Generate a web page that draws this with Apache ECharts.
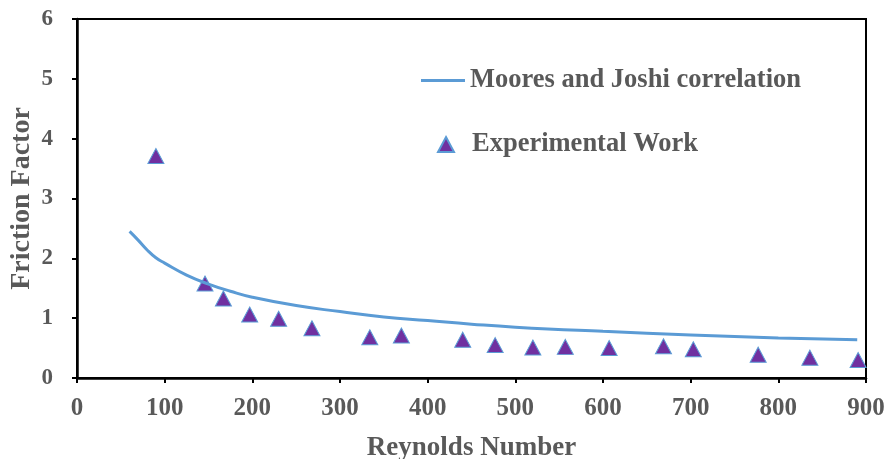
<!DOCTYPE html>
<html>
<head>
<meta charset="utf-8">
<script src="https://cdn.jsdelivr.net/npm/echarts@6/dist/echarts.min.js"></script>
<style>html,body{margin:0;padding:0;background:#fff}#c{width:888px;height:459px}</style>
</head>
<body>
<div id="c"></div>
<script>
// Moores and Joshi correlation
var corrRe = [60, 70, 80, 90, 100, 125, 150, 175, 200, 250, 300, 350, 400, 450, 500, 600, 700, 800, 890];
var corrF  = [2.45, 2.30, 2.14, 2.01, 1.92, 1.72, 1.57, 1.45, 1.35, 1.21, 1.11, 1.02, 0.96, 0.90, 0.85, 0.78, 0.72, 0.67, 0.64];
// Experimental Work
var expRe = [90, 146, 167, 197, 230, 268, 334, 370, 440, 477, 520, 557, 607, 669, 703, 777, 836, 891];
var expF  = [3.71, 1.58, 1.33, 1.06, 0.99, 0.83, 0.68, 0.71, 0.64, 0.55, 0.51, 0.52, 0.50, 0.53, 0.48, 0.39, 0.34, 0.30];
var xTicks = [0, 900, 100];
var yTicks = [0, 6, 1];

function pairs(a, b) { return a.map(function (v, i) { return [v, b[i]]; }); }

var font = 'Liberation Serif';
var gray = '#595959';
var chart = echarts.init(document.getElementById('c'), null, { renderer: 'canvas' });
chart.setOption({
  animation: false,
  backgroundColor: '#fff',
  grid: { left: 77, right: 22, top: 19, bottom: 81, show: true, borderColor: '#000', borderWidth: 2,
          containLabel: false, outerBoundsMode: 'none' },
  legend: [
    {
      data: [{ name: 'Moores and Joshi correlation', icon: 'rect' }],
      left: 421, top: 67, padding: 0,
      itemWidth: 44, itemHeight: 3, itemGap: 6,
      textStyle: { fontFamily: font, fontWeight: 'bold', fontSize: 26.5, color: gray }
    },
    {
      data: ['Experimental Work'],
      left: 437, top: 131, padding: 0,
      itemWidth: 16, itemHeight: 15,
      textStyle: { fontFamily: font, fontWeight: 'bold', fontSize: 26.5, color: gray, padding: [0, 0, 0, 13] }
    }
  ],
  xAxis: {
    type: 'value', min: xTicks[0], max: xTicks[1], interval: xTicks[2],
    name: 'Reynolds Number', nameLocation: 'middle', nameGap: 57, nameMoveOverlap: false,
    nameTextStyle: { fontFamily: font, fontWeight: 'bold', fontSize: 27, color: gray },
    axisLine: { lineStyle: { color: '#000', width: 2.5 } },
    axisTick: { show: true, inside: false, length: 5, lineStyle: { color: '#000', width: 2 } },
    axisLabel: { fontFamily: font, fontWeight: 'bold', fontSize: 25, color: gray, margin: 18 },
    splitLine: { show: false }
  },
  yAxis: {
    type: 'value', min: yTicks[0], max: yTicks[1], interval: yTicks[2],
    name: 'Friction Factor', nameLocation: 'middle', nameGap: 41, nameMoveOverlap: false,
    nameTextStyle: { fontFamily: font, fontWeight: 'bold', fontSize: 28, color: gray },
    axisLine: { lineStyle: { color: '#000', width: 2.5 } },
    axisTick: { show: true, inside: false, length: 5, lineStyle: { color: '#000', width: 2 } },
    axisLabel: { fontFamily: font, fontWeight: 'bold', fontSize: 23, color: gray, margin: 24 },
    splitLine: { show: false }
  },
  series: [
    {
      name: 'Moores and Joshi correlation', type: 'line', smooth: true,
      data: pairs(corrRe, corrF), showSymbol: false, symbol: 'none',
      lineStyle: { color: '#5B9BD5', width: 3 }, itemStyle: { color: '#5B9BD5' }
    },
    {
      name: 'Experimental Work', type: 'scatter', symbol: 'triangle', symbolSize: [16, 15],
      data: pairs(expRe, expF),
      itemStyle: { color: '#7030A0', borderColor: '#5B9BD5', borderWidth: 1, opacity: 1 }
    }
  ]
});
</script>
</body>
</html>
